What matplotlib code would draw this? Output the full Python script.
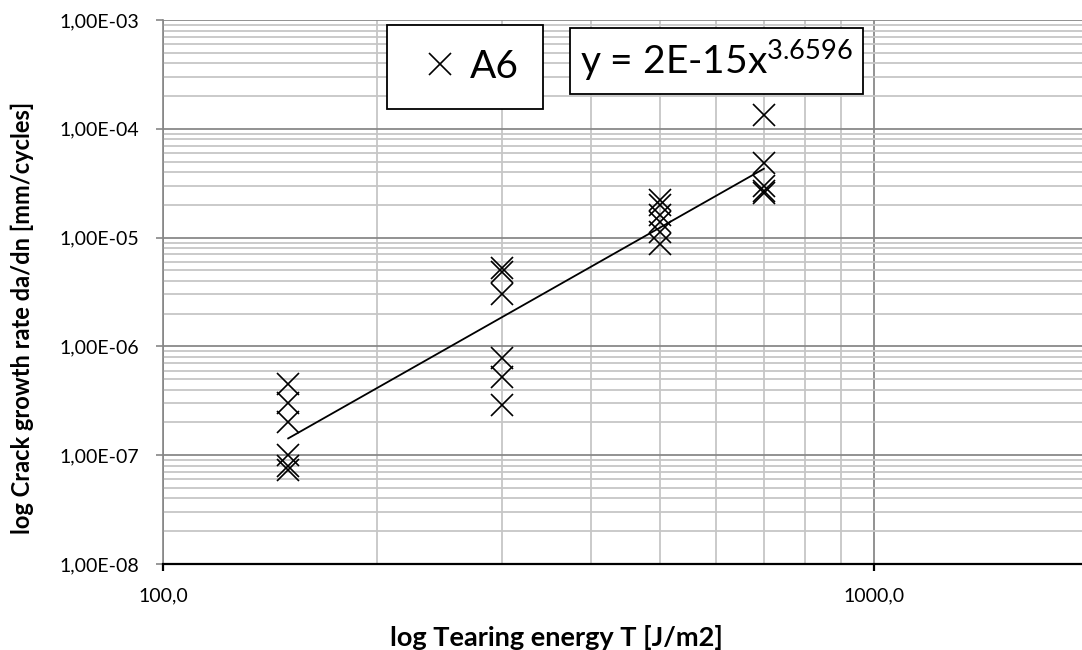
import numpy as np
import matplotlib
matplotlib.use("Agg")
import matplotlib.pyplot as plt
from matplotlib.ticker import FixedLocator, LogLocator, NullFormatter, FuncFormatter

plt.rcParams['font.family'] = ['Lato', 'DejaVu Sans']
plt.rcParams['mathtext.fontset'] = 'custom'
plt.rcParams['mathtext.rm'] = 'Lato'

# tearing energy T [J/m2] and crack growth rate da/dn [mm/cycles], sample A6
t_150 = [150] * 6
r_150 = [4.5e-7, 3.0e-7, 2.0e-7, 1.0e-7, 8.0e-8, 7.3e-8]
t_300 = [300] * 6
r_300 = [5.3e-6, 4.8e-6, 3.0e-6, 7.8e-7, 5.2e-7, 2.9e-7]
t_500 = [500] * 6
r_500 = [2.2e-5, 2.0e-5, 1.6e-5, 1.4e-5, 1.12e-5, 8.7e-6]
t_700 = [700] * 5
r_700 = [1.35e-4, 4.8e-5, 3.0e-5, 2.7e-5, 2.55e-5]

T = np.array(t_150 + t_300 + t_500 + t_700, dtype=float)
R = np.array(r_150 + r_300 + r_500 + r_700)

# power law trendline (least squares in log-log)
b, log_a = np.polyfit(np.log10(T), np.log10(R), 1)
t_fit = np.array([T.min(), T.max()])
r_fit = 10 ** log_a * t_fit ** b

fig = plt.figure(figsize=(10.82, 6.5), dpi=100)
ax = fig.add_axes([163 / 1082, 86 / 650, 925 / 1082, 544 / 650])

ax.plot(T, R, linestyle='none', marker='x', markersize=16, markeredgewidth=1.2,
        color='black', label='A6', zorder=3)
ax.plot(t_fit, r_fit, color='black', linewidth=1.3, zorder=3)

ax.set_xscale('log')
ax.set_yscale('log')
ax.set_xlim(100, 2000)
ax.set_ylim(1e-8, 1e-3)

ax.xaxis.set_major_locator(FixedLocator([100, 1000]))
ax.xaxis.set_minor_locator(LogLocator(base=10, subs=np.arange(2, 10)))
ax.xaxis.set_minor_formatter(NullFormatter())
ax.xaxis.set_major_formatter(FuncFormatter(lambda v, p: f"{v:.1f}".replace('.', ',')))

ax.yaxis.set_major_locator(LogLocator(base=10, numticks=10))
ax.yaxis.set_minor_locator(LogLocator(base=10, subs=np.arange(2, 10), numticks=10))
ax.yaxis.set_minor_formatter(NullFormatter())


def sci_fmt(v, p):
    m, e = f"{v:.2E}".split('E')
    return m.replace('.', ',') + 'E' + e


ax.yaxis.set_major_formatter(FuncFormatter(sci_fmt))

ax.grid(which='major', color='#898989', linewidth=1.3)
ax.grid(which='minor', color='#c6c6c6', linewidth=1.3)
ax.set_axisbelow(True)

for s in ['top', 'right']:
    ax.spines[s].set_visible(False)
ax.spines['left'].set_color('#868686')
ax.spines['left'].set_linewidth(1.2)
ax.spines['bottom'].set_color('black')
ax.spines['bottom'].set_linewidth(1.6)

ax.tick_params(axis='y', which='major', length=5, width=1.2, color='#868686',
               labelsize=14, pad=12)
ax.tick_params(axis='y', which='minor', length=0)
ax.tick_params(axis='x', which='major', length=5, width=1.6, color='black',
               labelsize=14, pad=12)
ax.tick_params(axis='x', which='minor', length=0)

fig.text(22 / 1082, 1 - 318 / 650, 'log Crack growth rate da/dn [mm/cycles]',
         fontsize=17, fontweight='bold', rotation=90, ha='center', va='center')
fig.text(556 / 1082, 1 - 637 / 650, 'log Tearing energy T [J/m2]', fontsize=19.5,
         fontweight='bold', ha='center', va='center')

leg = ax.legend(loc='upper left', bbox_to_anchor=(387 / 1082, 1 - 25 / 650),
                bbox_transform=fig.transFigure, borderaxespad=0, fontsize=28,
                frameon=True, fancybox=False, edgecolor='black', framealpha=1,
                borderpad=0.62, handlelength=1.5, handletextpad=0.0)
leg.get_frame().set_linewidth(1.3)

fig.text(580 / 1082, 1 - 61 / 650, r'y = 2E-15x$^{\mathrm{3.6596}}$', fontsize=28,
         ha='left', va='center',
         bbox=dict(boxstyle='square,pad=0.25', facecolor='white',
                   edgecolor='black', linewidth=1.3))

fig.savefig('out.png', dpi=100)
